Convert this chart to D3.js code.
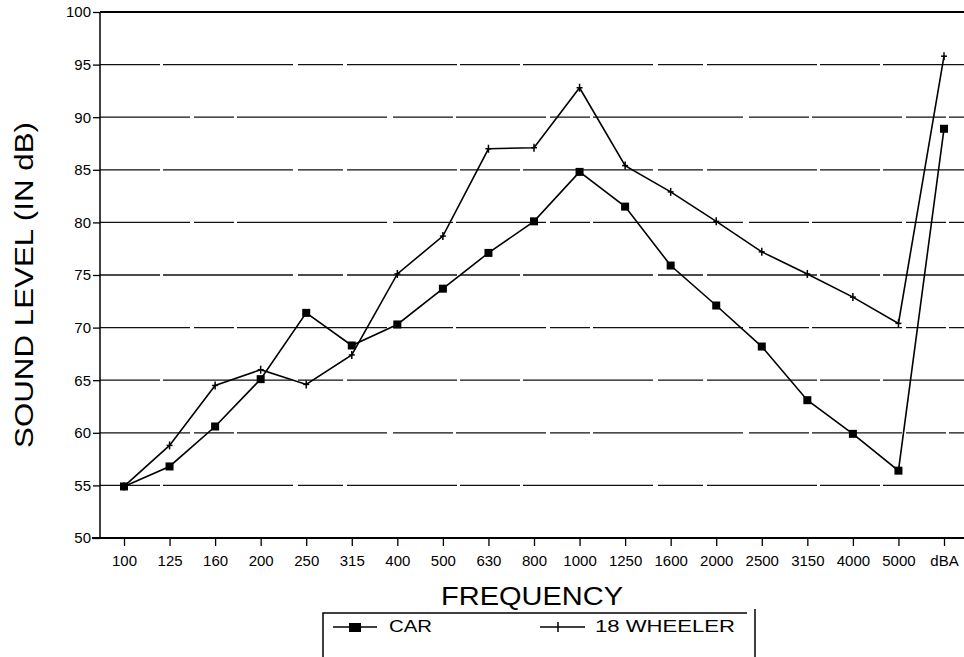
<!DOCTYPE html>
<html>
<head>
<meta charset="utf-8">
<script src="https://cdn.jsdelivr.net/npm/d3@7/dist/d3.min.js"></script>
<style>
  html, body { margin: 0; padding: 0; background: #fff; }
  svg { display: block; font-family: "Liberation Sans", Arial, sans-serif; }
</style>
</head>
<body>
<svg id="chart" width="964" height="657"></svg>
<script>
// Frequency bands (Hz) plus overall A-weighted level
const frequencies = ["100", "125", "160", "200", "250", "315", "400", "500", "630", "800",
  "1000", "1250", "1600", "2000", "2500", "3150", "4000", "5000", "dBA"];

// Sound level per band, in dB
const carLevels = [54.9, 56.8, 60.6, 65.1, 71.4, 68.3, 70.3, 73.7, 77.1, 80.1,
  84.8, 81.5, 75.9, 72.1, 68.2, 63.1, 59.9, 56.4, 88.9];
const wheelerLevels = [54.9, 58.8, 64.5, 66.0, 64.6, 67.4, 75.1, 78.7, 87.0, 87.1,
  92.8, 85.4, 82.9, 80.1, 77.2, 75.1, 72.9, 70.4, 95.8];

const yTicks = [50, 55, 60, 65, 70, 75, 80, 85, 90, 95, 100];

const svg = d3.select("#chart");
const axisLeft = 100, axisRight = 964, plotTop = 12, plotBottom = 538;

const x = d3.scalePoint().domain(frequencies).range([124, 944]);
const y = d3.scaleLinear().domain([50, 100]).range([plotBottom, plotTop]);

// Horizontal grid lines (broken dashes, as printed)
svg.append("g")
  .selectAll("line")
  .data(yTicks.filter(t => t > 50 && t < 100))
  .join("line")
  .attr("x1", axisLeft).attr("x2", axisRight)
  .attr("y1", d => y(d)).attr("y2", d => y(d))
  .attr("stroke", "#111")
  .attr("stroke-width", 1.3)
  .attr("stroke-dasharray", (d, i) => i % 2 ? "90,4,40,3,150,6,60,3" : "60,3,130,5,45,4,110,3");

// Top border line at 100
svg.append("line")
  .attr("x1", axisLeft).attr("x2", axisRight)
  .attr("y1", y(100)).attr("y2", y(100))
  .attr("stroke", "#000").attr("stroke-width", 2.2);

// Y axis
const yAxis = d3.axisLeft(y).tickValues(yTicks).tickSize(7).tickPadding(2).tickFormat(d3.format("d"));
const gy = svg.append("g").attr("transform", `translate(${axisLeft},0)`).call(yAxis);
gy.select(".domain").attr("stroke", "#000").attr("stroke-width", 1.5).attr("d", `M0,${plotTop}V${plotBottom}`);
gy.selectAll(".tick line").attr("stroke", "#000").attr("stroke-width", 1.3);
gy.selectAll(".tick text").attr("fill", "#000").attr("font-size", 15)
  .attr("font-family", "\"Liberation Sans\", Arial, sans-serif");

// X axis
const xAxis = d3.axisBottom(x).tickSize(8).tickPadding(9);
const gx = svg.append("g").attr("transform", `translate(0,${plotBottom})`).call(xAxis);
gx.select(".domain").attr("stroke", "#000").attr("stroke-width", 2).attr("d", `M${axisLeft - 8},0H${axisRight}`);
gx.selectAll(".tick line").attr("stroke", "#000").attr("stroke-width", 1.3);
gx.selectAll(".tick text").attr("fill", "#000").attr("font-size", 15)
  .attr("font-family", "\"Liberation Sans\", Arial, sans-serif");

// Axis titles (wide lettering)
svg.append("text")
  .attr("transform", "translate(33,285) rotate(-90)")
  .attr("text-anchor", "middle")
  .attr("font-size", 26).attr("fill", "#000")
  .attr("textLength", 326).attr("lengthAdjust", "spacingAndGlyphs")
  .text("SOUND LEVEL (IN dB)");

svg.append("text")
  .attr("x", 532).attr("y", 605)
  .attr("text-anchor", "middle")
  .attr("font-size", 25).attr("fill", "#000")
  .attr("textLength", 182).attr("lengthAdjust", "spacingAndGlyphs")
  .text("FREQUENCY");

// Series lines
const line = d3.line().x((d, i) => x(frequencies[i])).y(d => y(d));

svg.append("path").datum(wheelerLevels)
  .attr("d", line).attr("fill", "none").attr("stroke", "#000").attr("stroke-width", 1.6);
svg.append("path").datum(carLevels)
  .attr("d", line).attr("fill", "none").attr("stroke", "#000").attr("stroke-width", 1.6);

// Car markers: filled squares
svg.append("g").selectAll("rect").data(carLevels).join("rect")
  .attr("x", (d, i) => x(frequencies[i]) - 4)
  .attr("y", d => y(d) - 4)
  .attr("width", 8).attr("height", 8)
  .attr("fill", "#000");

// 18 wheeler markers: small plus signs
const plus = svg.append("g").attr("stroke", "#000").attr("stroke-width", 1.5);
wheelerLevels.forEach((d, i) => {
  const cx = x(frequencies[i]), cy = y(d);
  plus.append("line").attr("x1", cx).attr("x2", cx).attr("y1", cy - 4).attr("y2", cy + 4);
  plus.append("line").attr("x1", cx - 3).attr("x2", cx + 3).attr("y1", cy).attr("y2", cy);
});

// Legend
const legend = svg.append("g");
legend.append("path")
  .attr("d", "M323,657V613H747")
  .attr("fill", "none").attr("stroke", "#000").attr("stroke-width", 1.5);
legend.append("line").attr("x1", 755).attr("x2", 755).attr("y1", 609).attr("y2", 657)
  .attr("stroke", "#000").attr("stroke-width", 1.5);

legend.append("line").attr("x1", 333).attr("x2", 377).attr("y1", 627).attr("y2", 627)
  .attr("stroke", "#000").attr("stroke-width", 1.6);
legend.append("rect").attr("x", 349).attr("y", 623).attr("width", 12).attr("height", 9).attr("fill", "#000");
legend.append("text").attr("x", 389).attr("y", 632).attr("font-size", 16).attr("fill", "#000")
  .attr("textLength", 43).attr("lengthAdjust", "spacingAndGlyphs").text("CAR");

legend.append("line").attr("x1", 540).attr("x2", 585).attr("y1", 627).attr("y2", 627)
  .attr("stroke", "#000").attr("stroke-width", 1.6);
legend.append("line").attr("x1", 558).attr("x2", 558).attr("y1", 622).attr("y2", 632)
  .attr("stroke", "#000").attr("stroke-width", 1.5);
legend.append("text").attr("x", 595).attr("y", 632).attr("font-size", 16).attr("fill", "#000")
  .attr("textLength", 140).attr("lengthAdjust", "spacingAndGlyphs").text("18 WHEELER");
</script>
</body>
</html>
